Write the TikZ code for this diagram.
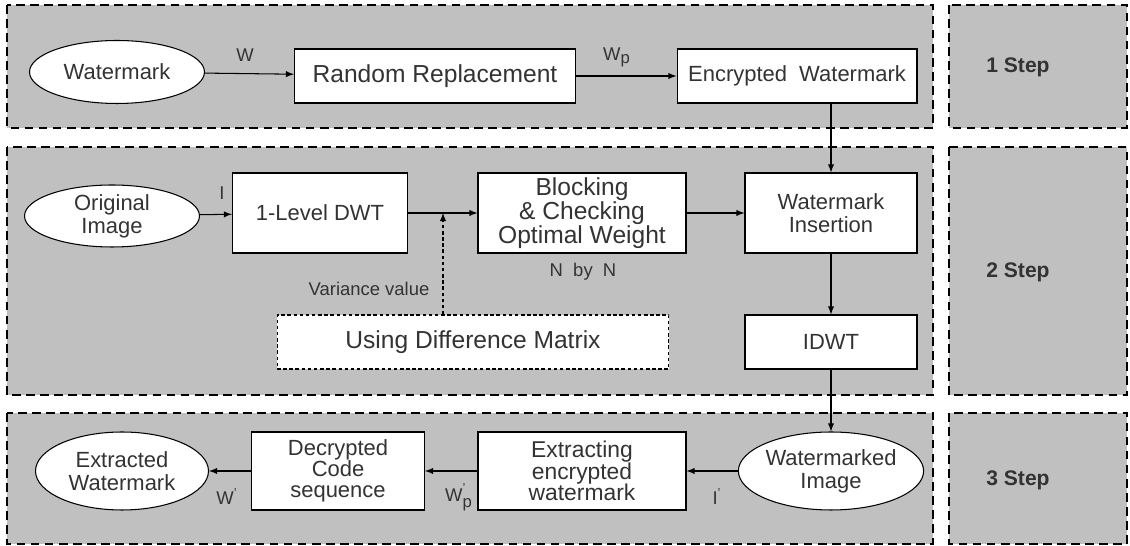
\documentclass[tikz,border=0pt]{standalone}
\usepackage{fontspec}
\setmainfont{Liberation Sans}
\usepackage{amsmath}
\usetikzlibrary{shapes.geometric}

\definecolor{panelgray}{HTML}{C0C0C0}
\definecolor{inkgray}{HTML}{333333}

\tikzset{
  panel/.style={draw=black,fill=panelgray,line width=1.2pt,dash pattern=on 5pt off 3pt},
  proc/.style={draw=black,fill=white,line width=0.6pt,inner sep=0pt,align=center,
    text=inkgray,font=\fontsize{12.5}{13}\selectfont},
  term/.style={proc,ellipse},
  lbl/.style={text=inkgray,font=\fontsize{10.5}{12}\selectfont,inner sep=0pt},
  steplbl/.style={text=inkgray,font=\fontsize{12}{14}\selectfont\bfseries},
  flow/.style={->,>=latex,line width=0.6pt}
}
\newcommand{\subp}{{\fontsize{9.5}{10}\selectfont p}}

\begin{document}
\begin{tikzpicture}[x=0.02cm,y=-0.02cm]
\useasboundingbox (0,0) rectangle (1130,546);

% panels
\draw[panel] (7,5) rectangle (933,128);
\draw[panel] (949,5) rectangle (1127,128);
\draw[panel] (7,147) rectangle (933,395);
\draw[panel] (949,147) rectangle (1127,395);
\draw[panel] (7,413) rectangle (933,544);
\draw[panel] (949,413) rectangle (1127,544);

\node[steplbl] at (1018,67) {1 Step};
\node[steplbl] at (1018,272) {2 Step};
\node[steplbl] at (1018,480) {3 Step};

% step 1
\node[term,minimum width=3.5cm,minimum height=1.26cm] (wm) at (117,72) {Watermark};
\node[proc,minimum width=5.62cm,minimum height=1.08cm,font=\fontsize{14}{15}\selectfont] (rr) at (435,76) {Random Replacement};
\node[proc,minimum width=4.8cm,minimum height=1.08cm] (ew) at (797,76) {Encrypted\ \ Watermark};

% step 2
\node[term,minimum width=3.5cm,minimum height=1.24cm] (oi) at (112,216) {Original\\Image};
\node[proc,minimum width=3.5cm,minimum height=1.6cm] (dwt) at (320,213) {1-Level DWT};
\node[proc,minimum width=4.16cm,minimum height=1.6cm,font=\fontsize{14}{13.6}\selectfont] (blk) at (582,213) {Blocking\\\& Checking\\Optimal Weight};
\node[proc,minimum width=3.44cm,minimum height=1.6cm] (ins) at (831,213) {Watermark\\Insertion};
\node[proc,minimum width=3.44cm,minimum height=1.08cm] (idwt) at (831,342) {IDWT};
\node[proc,dash pattern=on 2pt off 1.5pt,minimum width=7.84cm,minimum height=1.08cm,font=\fontsize{14}{15}\selectfont] (udm) at (473,342) {Using Difference Matrix};
\coordinate (junc) at (443,213);

% step 3
\node[term,minimum width=3.46cm,minimum height=1.56cm] (xw) at (122,471) {Extracted\\Watermark};
\node[proc,minimum width=3.46cm,minimum height=1.56cm,font=\fontsize{12.5}{12}\selectfont] (dcs) at (338,471) {Decrypted\\Code\\sequence};
\node[proc,minimum width=4.16cm,minimum height=1.56cm,font=\fontsize{13}{12.4}\selectfont] (xew) at (582,471) {Extracting\\encrypted\\watermark};
\node[term,minimum width=3.44cm,minimum height=1.56cm] (wi) at (831,471) {Watermarked\\Image};

% connectors
\draw[flow] (wm) -- (rr);
\draw[flow] (rr) -- (ew);
\draw[flow] (ew.south -| ins.north) -- (ins.north);
\draw[flow] (oi) -- (dwt);
\draw[flow] (dwt) -- (blk);
\draw[flow] (blk) -- (ins);
\draw[flow] (ins) -- (idwt);
\draw[flow,dash pattern=on 2pt off 1.5pt] (udm.north -| junc) -- (junc);
\draw[flow] (idwt) -- (wi);
\draw[flow] (wi) -- (xew);
\draw[flow] (xew) -- (dcs);
\draw[flow] (dcs) -- (xw);

% labels
\node[lbl] (lw) at (245,55) {W};
\node[lbl] (lwp) at (617,57) {W$_{\text{\subp}}$};
\node[lbl] (li) at (222,193) {I};
\node[lbl] (lvar) at (369,289) {Variance value};
\node[lbl] (lnn) at (583,272) {N\ \ by\ \ N};
\node[lbl] (lw2) at (227,497) {W$^{\text{'}}$};
\node[lbl] (lwp2) at (459,497) {W$_{\text{\subp}}^{\text{\raisebox{1.5pt}{'}}}$};
\node[lbl] (li2) at (717,497) {I$^{\text{'}}$};
\end{tikzpicture}
\end{document}
